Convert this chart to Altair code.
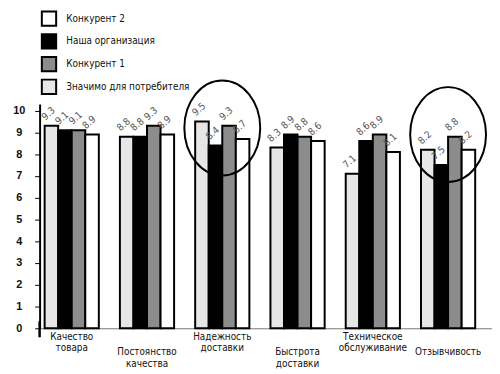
import altair as alt
import pandas as pd

# ---- data ----
categories = ["Качество|товара", "Постоянство|качества", "Надежность|доставки",
              "Быстрота|доставки", "Техническое|обслуживание", "Отзывчивость"]
staggered = [False, True, False, True, False, True]

bar_order = ["Значимо для потребителя", "Наша организация", "Конкурент 1", "Конкурент 2"]
legend_order = ["Конкурент 2", "Наша организация", "Конкурент 1", "Значимо для потребителя"]
legend_colors = ["#ffffff", "#000000", "#8c8c8c", "#e6e6e6"]

znachimo = [9.3, 8.8, 9.5, 8.3, 7.1, 8.2]
nasha = [9.1, 8.8, 8.4, 8.9, 8.6, 7.5]
konkurent1 = [9.1, 9.3, 9.3, 8.8, 8.9, 8.8]
konkurent2 = [8.9, 8.9, 8.7, 8.6, 8.1, 8.2]

circled = ["Надежность|доставки", "Отзывчивость"]
circled_center = [9.2, 8.9]

y_ticks = [0, 1, 2, 3, 4, 5, 6, 7, 8, 9, 10]

# ---- build table ----
rows = []
for name, vals in zip(bar_order, [znachimo, nasha, konkurent1, konkurent2]):
    for c, v in zip(categories, vals):
        rows.append({"cat": c, "series": name, "value": v})
df = pd.DataFrame(rows)
circ = pd.DataFrame({"cat": circled, "value": circled_center})

narrow = "DejaVu Sans Condensed, Liberation Sans Narrow, sans-serif"

stag_names = [c for c, s in zip(categories, staggered) if s]
test = " || ".join([f"datum.value == '{c}'" for c in stag_names])

x_scale = alt.Scale(domain=categories, paddingInner=0.28, paddingOuter=0.145, align=0.23)
y_scale = alt.Scale(domain=[0, 10.3], nice=False)

x_axis = alt.Axis(labelExpr="split(datum.value, '|')", labelAngle=0,
                  labelFont=narrow, labelFontSize=10, labelColor="#111",
                  labelLineHeight=12, labelBaseline="top",
                  labelPadding={"condition": {"test": test, "value": 19}, "value": 3},
                  ticks=False, domainColor="#777", domainWidth=1)
y_axis = alt.Axis(values=y_ticks, tickCount=11, grid=False, domainColor="#000", domainWidth=2,
                  tickColor="#000", tickSize=5, tickWidth=1, labelOverlap=False,
                  labelFont="Liberation Sans", labelFontWeight="bold",
                  labelFontSize=11, labelAlign="center", labelPadding=16,
                  labelColor="#111")

x_enc = alt.X("cat:N", scale=x_scale, sort=categories, title=None, axis=x_axis)
y_enc = alt.Y("value:Q", scale=y_scale, title=None, axis=y_axis)

bars = alt.Chart(df).mark_bar(stroke="#000", strokeWidth=2).encode(
    x=x_enc,
    xOffset=alt.XOffset("series:N", sort=bar_order, scale=alt.Scale(domain=bar_order, paddingInner=0, paddingOuter=0)),
    y=y_enc,
    color=alt.Color("series:N", scale=alt.Scale(domain=legend_order, range=legend_colors),
                    legend=alt.Legend(title=None, orient="none", legendX=1, legendY=-95,
                                      symbolType="square", symbolSize=210, symbolStrokeColor="#000",
                                      symbolStrokeWidth=2, labelFont=narrow, labelFontSize=10,
                                      labelColor="#111", rowPadding=0, labelOffset=9, padding=0)),
)

labels = alt.Chart(df).mark_text(angle=318, align="center", baseline="middle", dx=6, dy=-11,
                                 font=narrow, fontSize=10, color="#555").encode(
    x=x_enc,
    xOffset=alt.XOffset("series:N", sort=bar_order),
    y=y_enc,
    text=alt.Text("value:Q", format=".1f"),
)

ellipse_path = "M -0.8 0 A 0.8 1 0 1 0 0.8 0 A 0.8 1 0 1 0 -0.8 0 Z"
ellipses = alt.Chart(circ).mark_point(shape=ellipse_path, size=9216, filled=False,
                                      stroke="#000", strokeWidth=2, opacity=1).encode(
    x=x_enc,
    y=y_enc,
)

# y-axis line continues a little below zero, as in the reference
axis_ext = alt.Chart(circ).mark_rule(color="#000", strokeWidth=2).encode(
    x=alt.value(0), y=alt.value(220), y2=alt.value(236)
)

chart = alt.layer(bars, labels, ellipses, axis_ext).properties(
    width=458, height=227,
    padding={"left": 4, "top": 0, "right": 0, "bottom": 0},
).configure_view(stroke=None)

chart.save("out.html", embed_options={"renderer": "svg", "actions": False})
